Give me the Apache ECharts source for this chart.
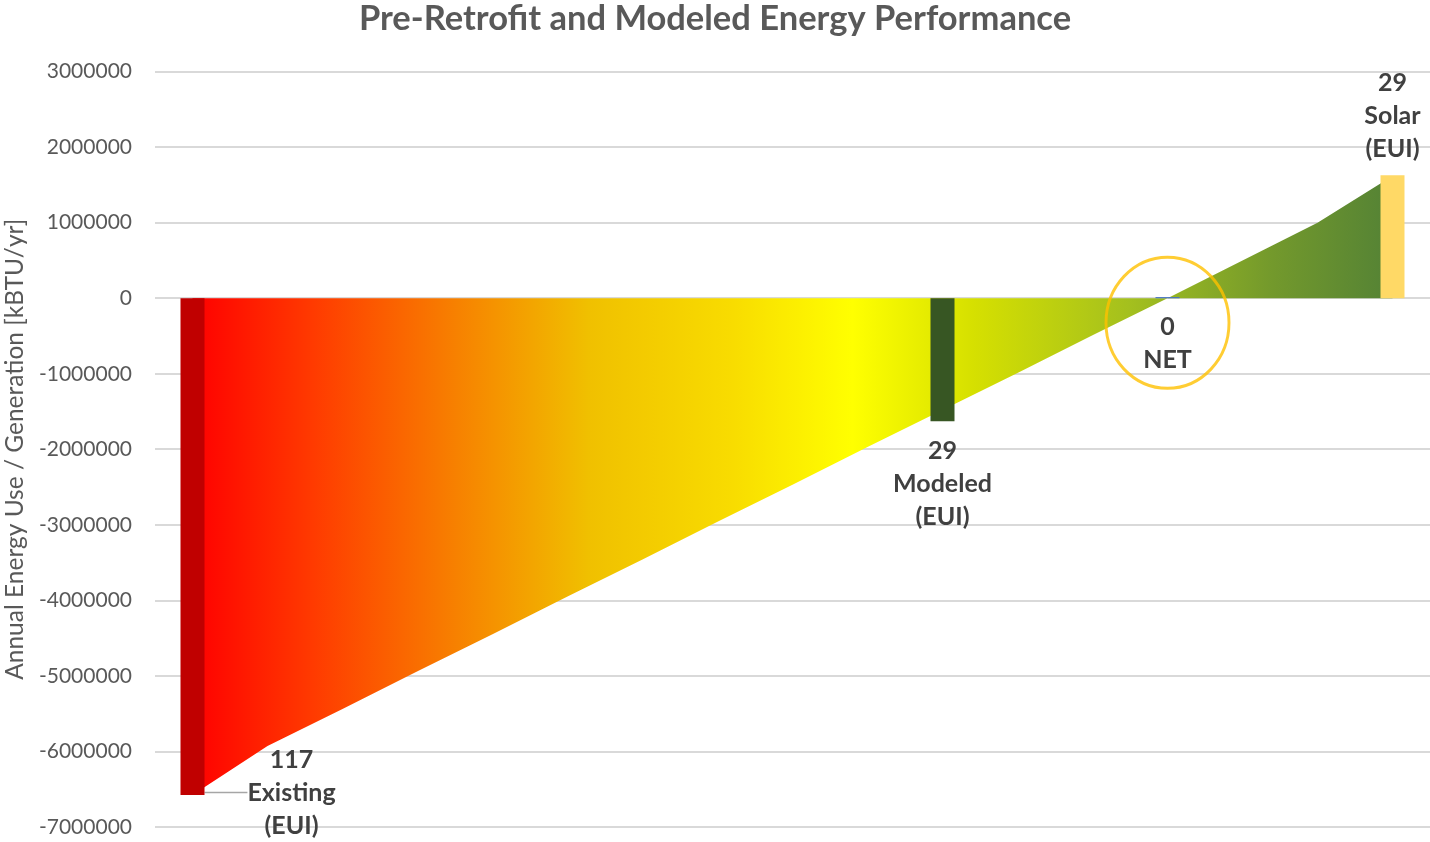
<!DOCTYPE html>
<html>
<head>
<meta charset="utf-8">
<title>Pre-Retrofit and Modeled Energy Performance</title>
<script src="https://cdn.jsdelivr.net/npm/echarts@6/dist/echarts.min.js"></script>
<style>
  html, body { margin: 0; padding: 0; background: #fff; }
  #main { width: 1430px; height: 842px; }
</style>
</head>
<body>
<div id="main"></div>
<script>
// 17 evenly spaced steps along the horizontal axis
const categories = ['0', '1', '2', '3', '4', '5', '6', '7', '8', '9', '10', '11', '12', '13', '14', '15', '16'];

// energy path (kBTU/yr)
const pathValues = [
  -6580000, -5930000, -5440000, -4940000, -4450000, -3950000, -3460000, -2960000, -2470000,
  -1970000, -1480000, -990000, -490000, 0, 500000, 1000000, 1620000
];

// the four marker bars
const barIndex = [0, 10, 13, 16];
const barValues = [-6580000, -1630000, 15000, 1630000];
const barNames = ['Existing', 'Modeled', 'NET', 'Solar'];
const barEui = [117, 29, 0, 29];

const yTicks = { min: -7000000, max: 3000000, step: 1000000 };

const textGray = '#595959';
const labelGray = '#404040';
const font = 'Lato, "Open Sans", sans-serif';

const barColors = ['#C00000', '#375623', '#4472C4', '#FFD966'];

// label placement per bar
const labelSetup = [
  { position: 'bottom', distance: 0, layout: { dx: 99, dy: -52 }, line: true },
  { position: 'bottom', distance: 13 },
  { position: 'bottom', distance: 12 },
  { position: 'top', distance: 10 }
];

const barData = categories.map(() => null);
barIndex.forEach((k, i) => {
  const s = labelSetup[i];
  barData[k] = {
    value: barValues[i],
    itemStyle: { color: barColors[i] },
    label: {
      show: true,
      position: s.position,
      distance: s.distance,
      formatter: barEui[i] + '\n' + barNames[i] + (barNames[i] === 'NET' ? '' : '\n(EUI)')
    },
    labelLine: s.line ? { show: true, lineStyle: { color: '#A6A6A6', width: 1.5 } } : { show: false }
  };
});

// orange ring around the NET point
const ringData = categories.map((c, k) => (k === barIndex[2] ? 0 : null));

var chartDom = document.getElementById('main');
var myChart = echarts.init(chartDom);

var option = {
  animation: false,
  textStyle: { fontFamily: font },
  title: {
    text: 'Pre-Retrofit and Modeled Energy Performance',
    left: 'center',
    top: -4,
    textStyle: { color: textGray, fontSize: 34.5, fontWeight: 'bold', fontFamily: font }
  },
  grid: { left: 155, right: 0, top: 71.7, bottom: 15.2, containLabel: false, outerBoundsMode: 'none' },
  xAxis: {
    type: 'category',
    data: categories,
    boundaryGap: true,
    axisLine: { show: false },
    axisTick: { show: false },
    axisLabel: { show: false },
    splitLine: { show: false }
  },
  yAxis: {
    type: 'value',
    min: yTicks.min,
    max: yTicks.max,
    interval: yTicks.step,
    name: 'Annual Energy Use / Generation [kBTU/yr]',
    nameLocation: 'middle',
    nameGap: 126,
    nameTextStyle: { color: textGray, fontSize: 24.5, fontFamily: font },
    axisLine: { show: false },
    axisTick: { show: false },
    axisLabel: {
      color: textGray,
      fontSize: 21,
      margin: 23,
      fontFamily: font,
      formatter: function (v) { return String(v); }
    },
    splitLine: { lineStyle: { color: '#D9D9D9', width: 2 } }
  },
  series: [
    {
      name: 'path',
      type: 'line',
      data: pathValues,
      symbol: 'none',
      smooth: false,
      lineStyle: { width: 0 },
      areaStyle: {
        opacity: 1,
        color: new echarts.graphic.LinearGradient(0, 0, 1, 0, [
          { offset: 0, color: '#FF0000' },
          { offset: 0.1, color: '#FF3A00' },
          { offset: 0.22, color: '#F78100' },
          { offset: 0.33, color: '#F0C000' },
          { offset: 0.45, color: '#F8DC00' },
          { offset: 0.55, color: '#FFFF00' },
          { offset: 0.65, color: '#D6E000' },
          { offset: 0.78, color: '#A4C01E' },
          { offset: 0.9, color: '#73992C' },
          { offset: 1, color: '#548235' }
        ])
      },
      z: 1
    },
    {
      name: 'bars',
      type: 'bar',
      data: barData,
      barWidth: 24,
      label: {
        color: labelGray,
        fontSize: 25,
        fontWeight: 'bold',
        lineHeight: 33,
        fontFamily: font,
        align: 'center'
      },
      labelLayout: function (params) {
        const i = barIndex.indexOf(params.dataIndex);
        const s = labelSetup[i];
        return s && s.layout ? s.layout : {};
      },
      z: 3
    },
    {
      name: 'ring',
      type: 'scatter',
      data: ringData,
      symbol: 'circle',
      symbolSize: [123, 131],
      symbolOffset: [0, 24.5],
      itemStyle: { color: 'rgba(0,0,0,0)', borderColor: '#FFC000', borderWidth: 3 },
      silent: true,
      z: 4
    }
  ]
};

option && myChart.setOption(option);
</script>
</body>
</html>
